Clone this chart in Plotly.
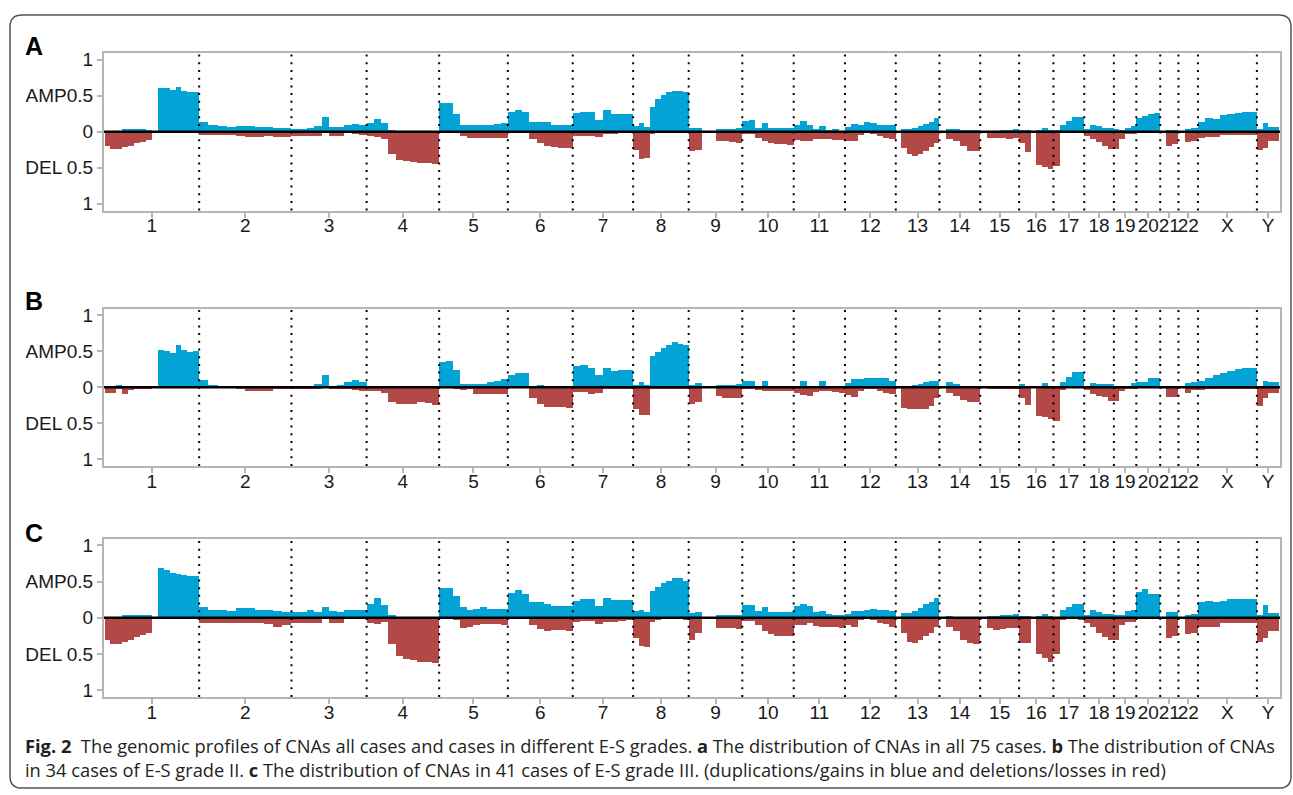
import plotly.graph_objects as go

# ---------------- data ----------------
CHROMS = ['1', '2', '3', '4', '5', '6', '7', '8', '9', '10', '11', '12',
          '13', '14', '15', '16', '17', '18', '19', '20', '21', '22', 'X', 'Y']
CHROM_LEN = [249.25, 243.2, 198.0, 191.15, 180.9, 171.1, 159.1, 146.4, 141.2,
             135.5, 135.0, 133.85, 115.2, 107.35, 102.5, 90.35, 81.2, 78.1,
             59.1, 63.0, 48.1, 51.3, 155.3, 59.4]  # Mb

Y_TICKVALS = [1, 0.5, 0, -0.5, -1]
Y_TICKTEXT = ['1', 'AMP0.5', '0', 'DEL 0.5', '1']
PANEL_LABELS = ['A', 'B', 'C']

# Panel A: all 75 cases (fraction per equal-width bin, per chromosome)
A_AMP = [
    [0.01, 0.01, 0.01, 0.04, 0.04, 0.04, 0.04, 0.03, None, 0.61, 0.61, 0.58, 0.62, 0.57, 0.56, 0.55],
    [0.14, 0.09, 0.08, 0.07, 0.08, 0.08, 0.07, 0.07, 0.06, 0.06],
    [0.04, 0.04, 0.06, 0.08, 0.2, 0.07, 0.07, 0.09, 0.11, 0.1],
    [0.13, 0.18, 0.12, 0.03, 0, 0, 0, 0, 0, 0],
    [0.4, 0.4, 0.25, 0.09, 0.09, 0.1, 0.1, 0.1, 0.11, 0.13],
    [0.28, 0.31, 0.28, 0.14, 0.14, 0.14, 0.09, 0.09, 0.09],
    [0.26, 0.28, 0.27, 0.17, 0.3, 0.25, 0.25, 0.25],
    [0.08, 0.12, 0.07, 0.35, 0.45, 0.51, 0.55, 0.57, 0.57, 0.55],
    [0.05, 0.06, None, None, 0.04, 0.04, 0.04, 0.05],
    [0.15, 0.16, 0.06, 0.12, 0.05, 0.05, 0.05, 0.05],
    [0.1, 0.15, 0.1, 0.04, 0.08, 0.03, 0.04, 0.01],
    [0.07, 0.11, 0.1, 0.14, 0.12, 0.1, 0.1, 0.09],
    [None, 0.04, 0.04, 0.05, 0.08, 0.11, 0.14, 0.19],
    [None, 0.04, 0.04, 0.02, 0.02, 0.02],
    [None, 0.01, 0.01, 0.02, 0.02, 0.04],
    [0.03, 0.03, None, 0.02, 0.06, 0.02],
    [0.02, 0.1, 0.15, 0.2, 0.2],
    [0.04, 0.1, 0.08, 0.05, 0.05],
    [0.04, 0.03, 0.06, 0.08],
    [0.19, 0.22, 0.25, 0.26],
    [None, 0.03, 0.03],
    [None, 0.04, 0.06],
    [0.14, 0.19, 0.18, 0.24, 0.25, 0.26, 0.27, 0.27],
    [0.04, 0.12, 0.07, 0.07],
]
A_DEL = [
    [0.2, 0.24, 0.24, 0.21, 0.2, 0.16, 0.14, 0.11, None, 0, 0, 0, 0, 0, 0, 0],
    [0.04, 0.04, 0.04, 0.04, 0.06, 0.07, 0.07, 0.06, 0.07, 0.07],
    [0.05, 0.05, 0.05, 0.05, 0.0, 0.05, 0.05, 0.01, 0.03, 0.04],
    [0.06, 0.07, 0.1, 0.3, 0.39, 0.4, 0.42, 0.43, 0.43, 0.45],
    [0, 0, 0.02, 0.06, 0.09, 0.09, 0.09, 0.09, 0.09, 0.09],
    [0, 0, 0, 0.1, 0.15, 0.19, 0.21, 0.22, 0.23],
    [0.05, 0.05, 0.05, 0.07, 0.03, 0.03, 0.02, 0.01],
    [0.25, 0.37, 0.36, 0.03, 0.02, 0.01, 0.01, 0.01, 0.01, 0.01],
    [0.26, 0.25, None, None, 0.13, 0.13, 0.14, 0.15],
    [0.03, 0.03, 0.08, 0.12, 0.16, 0.17, 0.17, 0.18],
    [0.11, 0.12, 0.12, 0.1, 0.1, 0.1, 0.11, 0.11],
    [0.12, 0.12, 0.04, 0.01, 0.03, 0.05, 0.08, 0.1],
    [None, 0.22, 0.3, 0.34, 0.31, 0.26, 0.21, 0.16],
    [None, 0.1, 0.13, 0.19, 0.26, 0.27],
    [None, 0.08, 0.08, 0.09, 0.1, 0.09],
    [0.15, 0.28, None, 0.46, 0.48, 0.52],
    [0.47, 0.02, 0.01, 0.01, 0.01],
    [0.05, 0.1, 0.14, 0.2, 0.24],
    [0.24, 0.1, 0.03, 0.03],
    [0.02, 0.01, 0, 0],
    [None, 0.19, 0.17],
    [None, 0.14, 0.12],
    [0.08, 0.07, 0.07, 0.04, 0.04, 0.04, 0.04, 0.04],
    [0.25, 0.22, 0.12, 0.12],
]

# Panel B: 34 cases of E-S grade II
B_AMP = [
    [0.01, 0.01, 0.04, 0.02, 0.03, 0.03, 0.02, 0.02, None, 0.52, 0.51, 0.48, 0.6, 0.53, 0.5, 0.51],
    [0.11, 0.04, 0.02, 0.03, 0.02, 0.02, 0.01, 0.01, 0.02, 0.02],
    [0.01, 0.01, 0.02, 0.05, 0.18, 0.03, 0.04, 0.08, 0.11, 0.08],
    [0.03, 0.03, 0.02, 0.02, 0.01, 0.01, 0.01, 0.01, 0.01, 0.01],
    [0.36, 0.37, 0.24, 0.05, 0.05, 0.05, 0.05, 0.08, 0.1, 0.12],
    [0.17, 0.2, 0.2, 0.03, 0.04, 0.02, 0.01, 0, 0],
    [0.3, 0.31, 0.27, 0.17, 0.28, 0.23, 0.24, 0.25],
    [0.04, 0.08, 0.04, 0.44, 0.5, 0.55, 0.6, 0.63, 0.61, 0.59],
    [0.04, 0.07, None, None, 0.04, 0.04, 0.04, 0.05],
    [0.1, 0.1, 0.03, 0.1, 0.01, 0.01, 0.01, 0.01],
    [0.03, 0.1, 0.02, 0.01, 0.1, 0.03, 0.01, 0.01],
    [0.07, 0.12, 0.12, 0.14, 0.14, 0.13, 0.13, 0.1],
    [None, 0.01, 0.02, 0.04, 0.05, 0.08, 0.1, 0.09],
    [None, 0.08, 0.05, 0.02, 0.02, 0.02],
    [None, 0.02, 0.02, 0.01, 0.01, 0.03],
    [0.05, 0.03, None, 0.02, 0.06, 0.02],
    [0.01, 0.08, 0.15, 0.22, 0.22],
    [0.02, 0.07, 0.05, 0.05, 0.05],
    [0.03, 0.02, 0.03, 0.06],
    [0.08, 0.08, 0.14, 0.14],
    [None, 0.01, 0.01],
    [None, 0.07, 0.08],
    [0.1, 0.13, 0.17, 0.2, 0.23, 0.26, 0.27, 0.27],
    [0.02, 0.1, 0.08, 0.08],
]
B_DEL = [
    [0.08, 0.08, 0.02, 0.09, 0.03, 0.01, 0.02, 0.01, None, 0, 0, 0, 0, 0, 0, 0],
    [0, 0, 0, 0, 0.02, 0.04, 0.05, 0.04, 0.01, 0.01],
    [0.02, 0.02, 0.02, 0.02, 0, 0.02, 0.02, 0.01, 0.03, 0.05],
    [0.05, 0.05, 0.08, 0.2, 0.22, 0.22, 0.22, 0.2, 0.21, 0.24],
    [0, 0, 0.01, 0.03, 0.02, 0.09, 0.09, 0.09, 0.09, 0.09],
    [0, 0, 0, 0.15, 0.22, 0.27, 0.27, 0.27, 0.28],
    [0.06, 0.06, 0.09, 0.08, 0.02, 0.01, 0.01, 0.01],
    [0.3, 0.38, 0.38, 0.02, 0.02, 0.02, 0.02, 0.02, 0.02, 0.02],
    [0.22, 0.2, None, None, 0.12, 0.15, 0.15, 0.15],
    [0.01, 0.01, 0.03, 0.04, 0.04, 0.04, 0.05, 0.05],
    [0.08, 0.1, 0.12, 0.06, 0.05, 0.05, 0.06, 0.08],
    [0.1, 0.13, 0.05, 0.01, 0.01, 0.04, 0.07, 0.09],
    [None, 0.28, 0.3, 0.3, 0.3, 0.3, 0.25, 0.15],
    [None, 0.08, 0.12, 0.17, 0.2, 0.2],
    [None, 0.02, 0.02, 0.01, 0.01, 0.01],
    [0.15, 0.24, None, 0.4, 0.41, 0.43],
    [0.46, 0.03, 0, 0, 0],
    [0.03, 0.09, 0.11, 0.13, 0.19],
    [0.18, 0.05, 0.01, 0.01],
    [0, 0, 0, 0],
    [None, 0.13, 0.13],
    [None, 0.07, 0.03],
    [0.03, 0.02, 0.01, 0.01, 0.01, 0.01, 0.01, 0.01],
    [0.25, 0.15, 0.08, 0.08],
]

# Panel C: 41 cases of E-S grade III
C_AMP = [
    [0, 0, 0.01, 0.04, 0.04, 0.04, 0.04, 0.04, None, 0.69, 0.66, 0.62, 0.61, 0.59, 0.58, 0.58],
    [0.15, 0.12, 0.12, 0.1, 0.14, 0.14, 0.12, 0.11, 0.1, 0.09],
    [0.08, 0.09, 0.11, 0.08, 0.15, 0.1, 0.09, 0.12, 0.12, 0.12],
    [0.2, 0.28, 0.18, 0.04, 0, 0, 0.01, 0, 0, 0],
    [0.42, 0.42, 0.3, 0.15, 0.12, 0.13, 0.16, 0.13, 0.13, 0.13],
    [0.35, 0.39, 0.34, 0.22, 0.22, 0.2, 0.17, 0.17, 0.17],
    [0.24, 0.26, 0.26, 0.17, 0.28, 0.25, 0.25, 0.25],
    [0.1, 0.12, 0.08, 0.38, 0.43, 0.48, 0.51, 0.55, 0.55, 0.52],
    [0.07, 0.08, None, None, 0.05, 0.05, 0.05, 0.05],
    [0.18, 0.18, 0.1, 0.15, 0.09, 0.09, 0.09, 0.09],
    [0.17, 0.2, 0.17, 0.08, 0.1, 0.06, 0.05, 0.05],
    [0.06, 0.1, 0.1, 0.12, 0.13, 0.11, 0.11, 0.1],
    [None, 0.07, 0.07, 0.1, 0.14, 0.19, 0.23, 0.28],
    [None, 0.03, 0.02, 0.02, 0.02, 0.02],
    [None, 0.03, 0.03, 0.04, 0.05, 0.06],
    [0.03, 0.03, None, 0.03, 0.06, 0.03],
    [0.02, 0.12, 0.16, 0.2, 0.2],
    [0.05, 0.12, 0.08, 0.06, 0.06],
    [0.05, 0.04, 0.1, 0.12],
    [0.36, 0.4, 0.34, 0.34],
    [None, 0.08, 0.08],
    [None, 0.05, 0.06],
    [0.22, 0.24, 0.22, 0.24, 0.26, 0.27, 0.27, 0.27],
    [0.05, 0.18, 0.07, 0.07],
]
C_DEL = [
    [0.3, 0.35, 0.35, 0.33, 0.3, 0.26, 0.23, 0.2, None, 0.01, 0.01, 0.01, 0.01, 0.01, 0.01, 0.01],
    [0.07, 0.07, 0.07, 0.07, 0.07, 0.07, 0.07, 0.08, 0.12, 0.1],
    [0.07, 0.07, 0.07, 0.07, 0.0, 0.07, 0.06, 0.01, 0.01, 0.01],
    [0.07, 0.08, 0.05, 0.35, 0.52, 0.56, 0.58, 0.6, 0.6, 0.62],
    [0, 0, 0.03, 0.14, 0.12, 0.1, 0.08, 0.08, 0.08, 0.09],
    [0, 0, 0, 0.1, 0.15, 0.17, 0.16, 0.16, 0.18],
    [0.05, 0.04, 0.04, 0.08, 0.05, 0.05, 0.04, 0.03],
    [0.28, 0.38, 0.4, 0.05, 0.02, 0.01, 0.01, 0.01, 0.01, 0.02],
    [0.3, 0.2, None, None, 0.13, 0.13, 0.14, 0.15],
    [0.04, 0.04, 0.1, 0.17, 0.22, 0.24, 0.25, 0.25],
    [0.1, 0.09, 0.07, 0.11, 0.12, 0.12, 0.12, 0.13],
    [0.1, 0.12, 0.02, 0.01, 0.03, 0.06, 0.08, 0.12],
    [None, 0.2, 0.33, 0.34, 0.3, 0.25, 0.2, 0.12],
    [None, 0.12, 0.18, 0.3, 0.34, 0.35],
    [None, 0.13, 0.16, 0.15, 0.14, 0.14],
    [0.34, 0.34, None, 0.5, 0.55, 0.6],
    [0.5, 0.02, 0.01, 0.01, 0.02],
    [0.07, 0.12, 0.2, 0.26, 0.3],
    [0.3, 0.1, 0.05, 0.05],
    [0.01, 0.01, 0, 0],
    [None, 0.27, 0.25],
    [None, 0.22, 0.2],
    [0.12, 0.12, 0.12, 0.07, 0.07, 0.07, 0.07, 0.07],
    [0.33, 0.28, 0.17, 0.17],
]

CAPTION_1 = ("<b>Fig. 2</b>  The genomic profiles of CNAs all cases and cases in different E-S grades. "
             "<b>a</b> The distribution of CNAs in all 75 cases. <b>b</b> The distribution of CNAs")
CAPTION_2 = ("in 34 cases of E-S grade II. <b>c</b> The distribution of CNAs in 41 cases of E-S grade III. "
             "(duplications/gains in blue and deletions/losses in red)")

# ---------------- styling ----------------
W, H = 1293, 795
AMP_COLOR = '#03a3d5'
DEL_COLOR = '#b34947'
FRAME_COLOR = '#b5b5b5'
AXIS_FONT = dict(family='Arial, Liberation Sans, sans-serif', size=19, color='#1a1a1a')

PLOT_X = (104, 1280)                     # plot frame in pixels
PANEL_Y = [(49.3, 208.7), (307.7, 466.7), (540, 700)]
Y_RANGE = [-1.094, 1.094]
LABEL_POS = [(34, 42), (34, 300), (34, 534)]


def px_x(p):
    return p / W


def px_y(p):
    return 1 - p / H


# genome coordinates
starts = []
acc = 0.0
for L in CHROM_LEN:
    starts.append(acc)
    acc += L
GENOME_END = acc
mids = [s + L / 2 for s, L in zip(starts, CHROM_LEN)]
bounds = [s + L for s, L in zip(starts, CHROM_LEN)][:-1]


def to_bars(series, sign):
    xs, ws, ys = [], [], []
    for s, L, vals in zip(starts, CHROM_LEN, series):
        n = len(vals)
        w = L / n
        for i, v in enumerate(vals):
            if v is None:
                continue
            xs.append(s + (i + 0.5) * w)
            ws.append(w)
            ys.append(sign * v)
    return xs, ws, ys


fig = go.Figure()
panels = [(A_AMP, A_DEL), (B_AMP, B_DEL), (C_AMP, C_DEL)]
shapes = []
annotations = []

for k, (amp, dele) in enumerate(panels):
    sfx = '' if k == 0 else str(k + 1)
    for series, sign, col in [(amp, 1, AMP_COLOR), (dele, -1, DEL_COLOR)]:
        xs, ws, ys = to_bars(series, sign)
        fig.add_trace(go.Bar(x=xs, y=ys, width=ws, marker=dict(color=col, line=dict(width=0)),
                             xaxis='x' + sfx, yaxis='y' + sfx, showlegend=False,
                             hoverinfo='skip'))
    y0, y1 = PANEL_Y[k]
    fig.update_layout(**{
        'xaxis' + sfx: dict(domain=[px_x(PLOT_X[0]), px_x(PLOT_X[1])], anchor='y' + sfx,
                            range=[-1.5, GENOME_END + 1.5], showgrid=False, zeroline=False,
                            showline=True, mirror=True, linecolor=FRAME_COLOR, linewidth=2,
                            ticks='outside', ticklen=5, tickwidth=1.5, tickcolor=FRAME_COLOR,
                            tickvals=mids, ticktext=CHROMS, tickfont=AXIS_FONT, tickangle=0,
                            ticklabelstandoff=-8, fixedrange=True),
        'yaxis' + sfx: dict(domain=[px_y(y1), px_y(y0)], anchor='x' + sfx, range=Y_RANGE,
                            showgrid=False, zeroline=False, showline=True, mirror=True,
                            linecolor=FRAME_COLOR, linewidth=2, ticks='outside', ticklen=5,
                            tickwidth=1.5, tickcolor=FRAME_COLOR, tickvals=Y_TICKVALS,
                            ticktext=Y_TICKTEXT, tickfont=AXIS_FONT, fixedrange=True),
    })
    # chromosome separators
    for b in bounds:
        shapes.append(dict(type='line', xref='x' + sfx, yref='y' + sfx + ' domain',
                           x0=b, x1=b, y0=0, y1=1, layer='above',
                           line=dict(color='black', width=2, dash='2px,5.7px')))
    # zero line
    shapes.append(dict(type='line', xref='x' + sfx + ' domain', yref='y' + sfx,
                       x0=0, x1=1, y0=0, y1=0, layer='above',
                       line=dict(color='black', width=2.5)))
    lx, ly = LABEL_POS[k]
    annotations.append(dict(text='<b>' + PANEL_LABELS[k] + '</b>', xref='paper', yref='paper',
                            x=px_x(lx), y=px_y(ly), showarrow=False, xanchor='center',
                            yanchor='middle', font=dict(family='Arial, Liberation Sans', size=25,
                                                        color='black')))

# caption
for txt, yy in [(CAPTION_1, 749), (CAPTION_2, 773)]:
    annotations.append(dict(text=txt, xref='paper', yref='paper', x=px_x(23), y=px_y(yy),
                            xanchor='left', yanchor='middle', showarrow=False, align='left',
                            font=dict(family='Open Sans', size=18.3, color='#231f20')))

# rounded outer border
r = 12
L_, T_, R_, B_ = 10, 11, 1291, 792
pts = (f"M {px_x(L_ + r)},{px_y(T_)} L {px_x(R_ - r)},{px_y(T_)} "
       f"Q {px_x(R_)},{px_y(T_)} {px_x(R_)},{px_y(T_ + r)} "
       f"L {px_x(R_)},{px_y(B_ - r)} Q {px_x(R_)},{px_y(B_)} {px_x(R_ - r)},{px_y(B_)} "
       f"L {px_x(L_ + r)},{px_y(B_)} Q {px_x(L_)},{px_y(B_)} {px_x(L_)},{px_y(B_ - r)} "
       f"L {px_x(L_)},{px_y(T_ + r)} Q {px_x(L_)},{px_y(T_)} {px_x(L_ + r)},{px_y(T_)} Z")
shapes.append(dict(type='path', xref='paper', yref='paper', path=pts,
                   line=dict(color='#555555', width=1.5), layer='below'))

fig.update_layout(width=W, height=H, margin=dict(l=0, r=0, t=0, b=0),
                  paper_bgcolor='white', plot_bgcolor='white', barmode='overlay',
                  bargap=0, shapes=shapes, annotations=annotations)

fig.write_html('out.html', config={'displayModeBar': False},
               post_script="document.body.style.margin='0';"
               "document.body.style.overflow='hidden';")
